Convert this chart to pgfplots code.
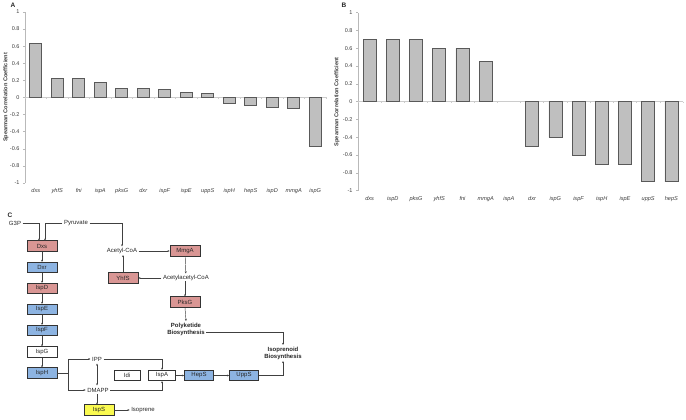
\documentclass[border=0pt]{standalone}
\usepackage{pgfplots}
\pgfplotsset{compat=1.18}
\usepackage{fontspec}
\setmainfont{Liberation Sans}
\usetikzlibrary{arrows.meta}
\definecolor{boxred}{RGB}{217,150,148}
\definecolor{boxblue}{RGB}{141,180,226}
\definecolor{boxyellow}{RGB}{250,250,80}
\definecolor{txt}{RGB}{60,60,60}
\begin{document}
\begin{tikzpicture}
\useasboundingbox (0,0) rectangle (686pt,420pt);
\pgfplotsset{chart/.style={
  scale only axis, xmin=-0.5, xmax=13.5, ymin=-1, ymax=1,
  axis lines*=left, x axis line style={draw=none},
  y axis line style={draw=gray!55, line width=0.5pt},
  xtick={0,...,13}, xtick style={draw=none},
  ytick={-1,-0.8,-0.6,-0.4,-0.2,0,0.2,0.4,0.6,0.8,1},
  ytick style={draw=gray!55, line width=0.5pt},
  tick align=outside, major tick length=2pt,
  /pgf/number format/assume math mode=true,
  yticklabel style={font=\fontsize{5.5}{6}\selectfont, text=txt},
  xticklabel style={font=\fontsize{5.6}{6}\selectfont\itshape, text=txt},
  ylabel={Spearman Correlation Coefficient},
  ylabel style={font=\bfseries\fontsize{5.6}{6}\selectfont, text=txt, anchor=center},
  ybar, clip=false,
}}
% ---------------- Panel A
\begin{axis}[chart, at={(25pt,237pt)}, anchor=south west, width=301pt, height=171pt,
  bar width=12pt,
  ylabel style={at={(axis description cs:-0.063,0.5)}},
  xticklabels={dxs,yhfS,fni,ispA,pksG,dxr,ispF,ispE,uppS,ispH,hepS,ispD,mmgA,ispG}]
\draw[gray!40, line width=0.5pt] (axis cs:-0.5,0) -- (axis cs:13.5,0);
\pgfplotsinvokeforeach{-0.5,0.5,1.5,2.5,3.5,4.5,5.5,6.5,7.5,8.5,9.5,10.5,11.5,12.5,13.5}{
  \draw[gray!40, line width=0.5pt] (axis cs:#1,0) -- ([yshift=-1.8pt]axis cs:#1,0);}
\addplot[fill=gray!50, draw=black!65, line width=0.6pt] coordinates {(0,0.635) (1,0.227) (2,0.227) (3,0.18) (4,0.106) (5,0.106) (6,0.094)
  (7,0.063) (8,0.047) (9,-0.07) (10,-0.094) (11,-0.11) (12,-0.13) (13,-0.57)};
\end{axis}
% ---------------- Panel B
\begin{axis}[chart, at={(358pt,229.3pt)}, anchor=south west, width=325pt, height=178pt,
  bar width=13pt,
  ylabel style={at={(axis description cs:-0.065,0.5)}},
  xticklabels={dxs,ispD,pksG,yhfS,fni,mmgA,ispA,dxr,ispG,ispF,ispH,ispE,uppS,hepS}]
\draw[gray!40, line width=0.5pt] (axis cs:-0.5,0) -- (axis cs:13.5,0);
\pgfplotsinvokeforeach{-0.5,0.5,1.5,2.5,3.5,4.5,5.5,6.5,7.5,8.5,9.5,10.5,11.5,12.5,13.5}{
  \draw[gray!40, line width=0.5pt] (axis cs:#1,0) -- ([yshift=-1.8pt]axis cs:#1,0);}
\addplot[fill=gray!50, draw=black!65, line width=0.6pt] coordinates {(0,0.7) (1,0.7) (2,0.7) (3,0.6) (4,0.6) (5,0.45)
  (7,-0.5) (8,-0.4) (9,-0.6) (10,-0.7) (11,-0.7) (12,-0.9) (13,-0.9)};
\end{axis}
% ---------------- Panel C (pathway diagram)
\begin{scope}[x=1pt, y=-1pt, shift={(0pt,420pt)},
  lab/.style={font=\bfseries\fontsize{6.5}{7}\selectfont, text=black!85},
  t/.style={font=\fontsize{6}{7}\selectfont, text=black!85, inner sep=1.5pt},
  bx/.style={draw=black!80, line width=0.6pt, minimum width=30pt, minimum height=10.5pt,
    inner sep=0pt, font=\fontsize{6}{7}\selectfont, text=black!85},
  rb/.style={bx, fill=boxred}, bb/.style={bx, fill=boxblue},
  wb/.style={bx, fill=white}, yb/.style={bx, fill=boxyellow},
  arr/.style={-{Stealth[length=2.2pt,width=1.9pt]}, line width=0.45pt, draw=black!75},
  ln/.style={line width=0.45pt, draw=black!75}]
\node[lab] at (13,5) {A};
\node[lab] at (344,5) {B};
\node[lab] at (10,215) {C};
\node[t] (G3P) at (15,223) {G3P};
\node[t] (Pyr) at (76,223) {Pyruvate};
\node[rb] (Dxs) at (42,246) {Dxs};
\node[bb] (Dxr) at (42,267.5) {Dxr};
\node[rb] (IspD) at (42,288.5) {IspD};
\node[bb] (IspE) at (42,309.5) {IspE};
\node[bb] (IspF) at (42,330.5) {IspF};
\node[wb] (IspG) at (42,352) {IspG};
\node[bb] (IspH) at (42,373) {IspH};
\node[t] (IPP) at (97,359) {IPP};
\node[t] (DMAPP) at (98,390) {DMAPP};
\node[wb, minimum width=26pt] (Idi) at (127,375.5) {Idi};
\node[wb, minimum width=27pt] (IspA) at (162,375.5) {IspA};
\node[bb, minimum width=29pt] (HepS) at (199,375.5) {HepS};
\node[bb, minimum width=29pt] (UppS) at (244,375.5) {UppS};
\node[yb] (IspS) at (99,410) {IspS};
\node[t] (Iso) at (143,410) {Isoprene};
\node[t] (ACoA) at (122,251) {Acetyl-CoA};
\node[rb] (MmgA) at (185,251) {MmgA};
\node[rb] (YhfS) at (123,278) {YhfS};
\node[t] (AACoA) at (186,278) {Acetylacetyl-CoA};
\node[rb] (PksG) at (185,302) {PksG};
\node[t, font=\bfseries\fontsize{6}{7}\selectfont, align=center] (Poly) at (186,329) {Polyketide\\Biosynthesis};
\node[t, font=\bfseries\fontsize{6}{7}\selectfont, align=center] (Isop) at (283,353) {Isoprenoid\\Biosynthesis};
% arrows
\draw[arr] (G3P.east) -- (39,223) -- (39,240.75);
\draw[arr] (Pyr.west) -- (45,223) -- (45,240.75);
\draw[arr] (Pyr.east) -- (122,223) -- (ACoA.north);
\draw[arr] (Dxs) -- (Dxr);
\draw[arr] (Dxr) -- (IspD);
\draw[arr] (IspD) -- (IspE);
\draw[arr] (IspE) -- (IspF);
\draw[arr] (IspF) -- (IspG);
\draw[arr] (IspG) -- (IspH);
\draw[ln] (IspH.east) -- (68,373);
\draw[arr] (68,373) -- (68,359) -- (IPP.west);
\draw[arr] (68,373) -- (68,390) -- (DMAPP.west);
\draw[{Stealth[length=2.2pt,width=1.9pt]}-{Stealth[length=2.2pt,width=1.9pt]}, line width=0.45pt, draw=black!75] (97,363.5) -- (97,385.5);
\draw[arr] (IPP.east) -- (162,359) -- (IspA.north);
\draw[arr] (DMAPP.east) -- (162,390) -- (IspA.south);
\draw[arr] (97,394.5) -- (97,404.75);
\draw[arr] (IspS.east) -- (Iso.west);
\draw[arr] (IspA) -- (HepS);
\draw[arr] (HepS) -- (UppS);
\draw[arr] (UppS.east) -- (283,375.5) -- (Isop.south);
\draw[arr] (Poly.east |- 0,332) -- (283,332) -- (Isop.north);
\draw[arr] (ACoA.east) -- (MmgA.west);
\draw[arr] (MmgA) -- (AACoA);
\draw[arr] (AACoA.west) -- (YhfS.east);
\draw[arr] (YhfS.north) -- (123,255);
\draw[arr] (185,281.5) -- (PksG.north);
\draw[arr] (PksG.south) -- (Poly.north);
\end{scope}
\end{tikzpicture}
\end{document}
